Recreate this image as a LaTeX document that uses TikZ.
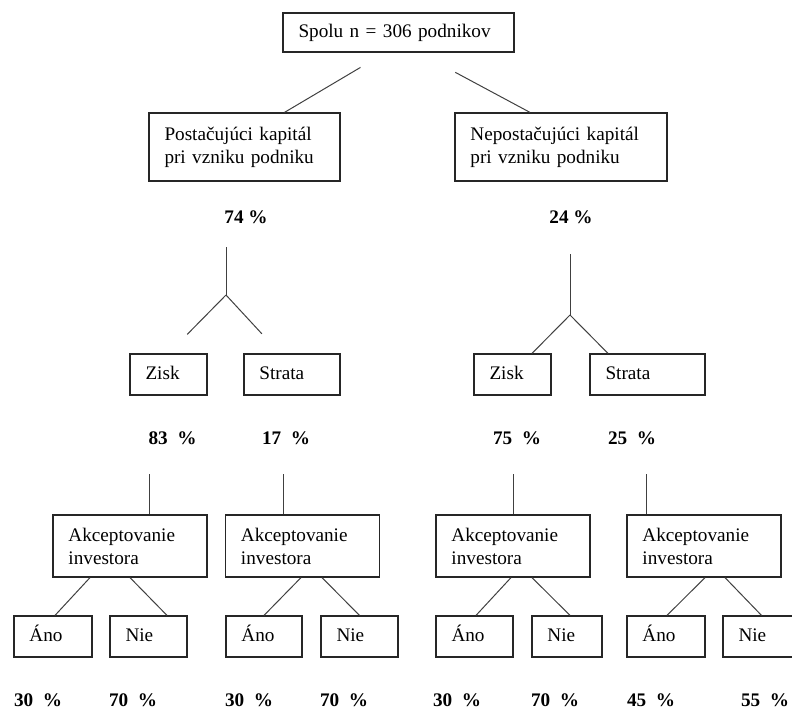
\documentclass[tikz,border=0pt]{standalone}
\usepackage{fontspec}
\setmainfont{Liberation Serif}
\usetikzlibrary{calc}

\begin{document}
\begin{tikzpicture}[
    x=0.75pt, y=-0.75pt,
    font=\fontsize{14.4pt}{17.25pt}\selectfont,
    box/.style={draw=black!85, line width=0.9pt, inner xsep=11.6pt, inner ysep=0pt, align=left},
    tag/.style={box, text height=10pt, text depth=3pt},
    pct/.style={font=\fontsize{14.4pt}{17.25pt}\selectfont\bfseries, inner sep=0pt},
    link/.style={draw=black!75, line width=0.75pt}
]
\useasboundingbox (0,0) rectangle (792,709);

% Root
\node[tag, text width=150pt, minimum height=29.25pt] (root) at (398.5,32.5) {Spolu n = 306 podnikov};

% Capital at start
\node[box, text width=120pt, minimum height=51pt] (cap1) at (244.5,147) {Postačujúci kapitál\\pri vzniku podniku};
\node[box, text width=135.8pt, minimum height=51pt] (cap2) at (561,147) {Nepostačujúci kapitál\\pri vzniku podniku};
\node[pct] (p74) at (246,217) {74 \%};
\node[pct] (p24) at (571,217) {24 \%};

% Zisk / Strata
\node[tag, text width=34.5pt, minimum height=30.75pt] (zisk1) at (168.5,374.5) {Zisk};
\node[tag, text width=48.8pt, minimum height=30.75pt] (strata1) at (292,374.5) {Strata};
\node[tag, text width=34.5pt, minimum height=30.75pt] (zisk2) at (512.5,374.5) {Zisk};
\node[tag, text width=63pt, minimum height=30.75pt] (strata2) at (647.5,374.5) {Strata};
\node[pct] (p83) at (172.5,438) {83~~\%};
\node[pct] (p17) at (286,438) {17~~\%};
\node[pct] (p75) at (517,438) {75~~\%};
\node[pct] (p25) at (632,438) {25~~\%};

% Investor acceptance
\node[box, text width=92.3pt, minimum height=46.5pt] (acc1) at (130,546) {Akceptovanie\\investora};
\node[box, text width=92.3pt, minimum height=46.5pt] (acc2) at (302.5,546) {Akceptovanie\\investora};
\node[box, text width=92.3pt, minimum height=46.5pt] (acc3) at (513,546) {Akceptovanie\\investora};
\node[box, text width=92.3pt, minimum height=46.5pt] (acc4) at (704,546) {Akceptovanie\\investora};

% Answers
\node[tag, text width=35.3pt, minimum height=30.75pt] (ano1) at (53,636.5) {Áno};
\node[tag, text width=34.5pt, minimum height=30.75pt] (nie1) at (148.5,636.5) {Nie};
\node[tag, text width=33.8pt, minimum height=30.75pt] (ano2) at (264,636.5) {Áno};
\node[tag, text width=34.5pt, minimum height=30.75pt] (nie2) at (359.5,636.5) {Nie};
\node[tag, text width=34.5pt, minimum height=30.75pt] (ano3) at (474.5,636.5) {Áno};
\node[tag, text width=29.3pt, minimum height=30.75pt] (nie3) at (567,636.5) {Nie};
\node[tag, text width=35.3pt, minimum height=30.75pt] (ano4) at (666,636.5) {Áno};
\node[tag, text width=34.5pt, minimum height=30.75pt] (nie4) at (761.5,636.5) {Nie};
\node[pct] (q1) at (38,700) {30~~\%};
\node[pct] (q2) at (133,700) {70~~\%};
\node[pct] (q3) at (249,700) {30~~\%};
\node[pct] (q4) at (344,700) {70~~\%};
\node[pct] (q5) at (457,700) {30~~\%};
\node[pct] (q6) at (555,700) {70~~\%};
\node[pct] (q7) at (651,700) {45~~\%};
\node[pct] (q8) at (765,700) {55~~\%};

% Root branches
\draw[link, shorten <=21.8pt] ($(root.south)+(-13,0)$) -- ($(cap1.north)+(40,0)$);
\draw[link, shorten <=31.3pt] ($(root.south)+(20,0)$) -- ($(cap2.north)+(-31,0)$);

% Forks to Zisk / Strata
\coordinate (fork1) at (226,295);
\coordinate (fork2) at (570,315);
\draw[link] (fork1) -- ++(0,-48);
\draw[link, shorten >=20pt] (fork1) -- (zisk1.north);
\draw[link, shorten >=20pt] (fork1) -- ($(strata1.north)+(-12,0)$);
\draw[link] (fork2) -- ++(0,-61);
\draw[link] (fork2) -- ($(zisk2.north)+(19.5,0)$);
\draw[link] (fork2) -- ($(strata2.north)+(-39.5,0)$);

% Stems to acceptance
\draw[link] ($(acc1.north)+(19,0)$) -- ++(0,-40);
\draw[link] ($(acc2.north)+(-19.5,0)$) -- ++(0,-40);
\draw[link] (acc3.north) -- ++(0,-40);
\draw[link] ($(acc4.north)+(-58,0)$) -- ++(0,-40);

% Acceptance to answers
\draw[link] ($(acc1.south)+(-40,0)$) -- ($(ano1.north)+(2,0)$);
\draw[link] (acc1.south) -- ($(nie1.north)+(18.5,0)$);
\draw[link] ($(acc2.south)+(-1.5,0)$) -- (ano2.north);
\draw[link] ($(acc2.south)+(19.5,0)$) -- (nie2.north);
\draw[link] ($(acc3.south)+(-2,0)$) -- ($(ano3.north)+(1.5,0)$);
\draw[link] ($(acc3.south)+(19,0)$) -- ($(nie3.north)+(3,0)$);
\draw[link] ($(acc4.south)+(1,0)$) -- ($(ano4.north)+(1,0)$);
\draw[link] ($(acc4.south)+(21,0)$) -- (nie4.north);

\end{tikzpicture}
\end{document}
